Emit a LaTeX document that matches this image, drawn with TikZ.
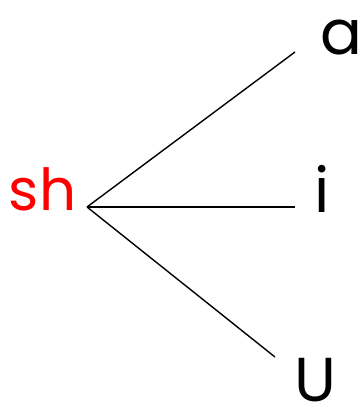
\documentclass[tikz,border=0pt]{standalone}
\usepackage{fontspec}
\setmainfont{Poppins}
\begin{document}
\begin{tikzpicture}[x=1pt,y=1pt,
  lbl/.style={inner sep=0pt,outer sep=0pt,font=\fontsize{62}{62}\selectfont,anchor=base west},
  edge/.style={line width=1.4pt,black}]
\useasboundingbox (0,0) rectangle (364,408);
\node[lbl,text=red,font=\fontsize{58}{58}\selectfont] (sh) at (9,197) {sh};
\node[lbl] (a) at (320,353) {a};
\node[lbl] (i) at (314,195) {i};
\node[lbl] (u) at (294,6) {U};
\coordinate (o) at (87,201);
\coordinate (ea) at (295,356);
\coordinate (ei) at (295,201);
\coordinate (eu) at (275,51);
\draw[edge] (o) -- (ea);
\draw[edge] (o) -- (ei);
\draw[edge] (o) -- (eu);
\end{tikzpicture}
\end{document}
